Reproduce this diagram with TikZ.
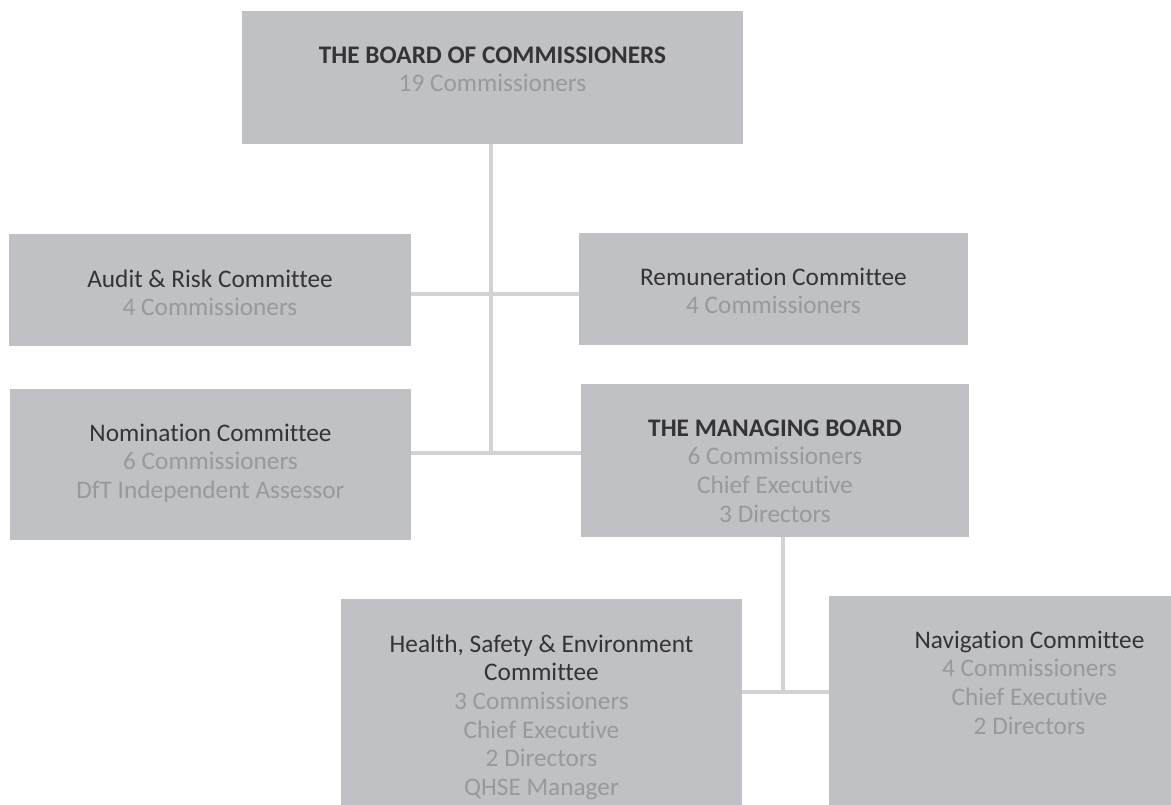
\documentclass[tikz,border=0pt]{standalone}
\usepackage{fontspec}
\setmainfont{Carlito}[Ligatures=NoCommon]
\usepackage{xcolor}
\usepackage{tikz}
\usetikzlibrary{positioning,calc}
\definecolor{boxgrey}{RGB}{192,193,197}
\definecolor{linkgrey}{RGB}{211,211,214}
\definecolor{headtxt}{RGB}{52,52,54}
\definecolor{subtxt}{RGB}{152,153,157}
\newcommand\subl[1]{{\color{subtxt}#1}}
\tikzset{
  orgbox/.style  = {fill=boxgrey, draw=none, inner sep=0pt},
  orgtxt/.style  = {font=\fontsize{25.3}{28.6}\selectfont, text=headtxt, align=center, anchor=north, inner sep=0pt},
  link/.style    = {draw=linkgrey, line width=3.5pt},
}

\begin{document}
\begin{tikzpicture}[x=1pt,y=-1pt]
  \useasboundingbox (0,0) rectangle (1171,805);
  \clip (0,0) rectangle (1171,805);

  % boxes
  \node[orgbox, minimum width=501pt, minimum height=133pt] (board) at (492.5,77.5) {};
  \node[orgbox, minimum width=402pt, minimum height=112pt] (aud)   at (210,290) {};
  \node[orgbox, minimum width=389pt, minimum height=112pt] (rem)   at (773.5,289) {};
  \node[orgbox, minimum width=401pt, minimum height=151pt] (nom)   at (210.5,464.5) {};
  \node[orgbox, minimum width=388pt, minimum height=153pt] (man)   at (775,460.5) {};
  \node[orgbox, minimum width=401pt, minimum height=231pt] (hse)   at (541.5,714.5) {};
  \node[orgbox, minimum width=401pt, minimum height=234pt] (nav)   at (1029.5,713) {};

  % texts
  \node[orgtxt] (boardtxt) at (492.5,43) {\strut\textbf{THE BOARD OF COMMISSIONERS}\\\subl{19 Commissioners}};
  \node[orgtxt] (audtxt) at (210,267) {\strut Audit \& Risk Committee\\\subl{4 Commissioners}};
  \node[orgtxt] (remtxt) at (773.5,265) {\strut Remuneration Committee\\\subl{4 Commissioners}};
  \node[orgtxt] (nomtxt) at (210.5,421) {\strut Nomination Committee\\\subl{6 Commissioners}\\\subl{DfT Independent Assessor}};
  \node[orgtxt] (mantxt) at (775,416) {\strut\textbf{THE MANAGING BOARD}\\\subl{6 Commissioners}\\\subl{Chief Executive}\\\subl{3 Directors}};
  \node[orgtxt] (hsetxt) at (541.5,632) {\strut Health, Safety \& Environment\\Committee\\\subl{3 Commissioners}\\\subl{Chief Executive}\\\subl{2 Directors}\\\subl{QHSE Manager}};
  \node[orgtxt] (navtxt) at (1029.5,628) {\strut Navigation Committee\\\subl{4 Commissioners}\\\subl{Chief Executive}\\\subl{2 Directors}};

  % connectors
  \coordinate (upj)  at (491,294);
  \coordinate (lowj) at (491,453);
  \coordinate (botj) at (783,692);
  \draw[link] (board.south -| upj) -- (lowj);
  \draw[link] (aud.east |- upj) -- (rem.west |- upj);
  \draw[link] (nom.east |- lowj) -- (man.west |- lowj);
  \draw[link] (man.south -| botj) -- (botj);
  \draw[link] (hse.east |- botj) -- (nav.west |- botj);
\end{tikzpicture}
\end{document}
